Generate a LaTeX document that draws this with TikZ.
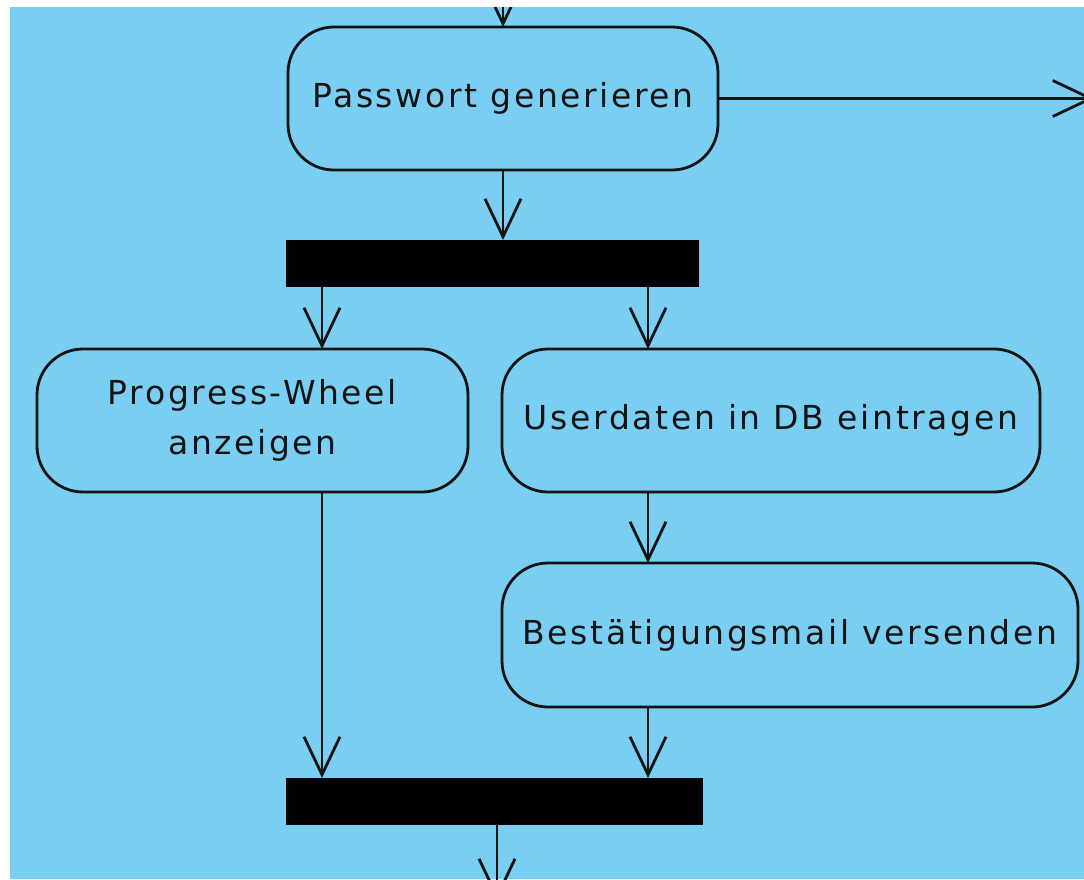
\documentclass[tikz,border=0pt]{standalone}
\usepackage{fontspec}
\setmainfont[LetterSpace=8]{DejaVu Sans}
\usetikzlibrary{arrows.meta,calc}
\definecolor{bgblue}{RGB}{122,206,242}
\definecolor{ink}{RGB}{20,20,20}
\tikzset{
  action/.style={draw=ink, line width=2.8pt, rounded corners=46pt, inner sep=0pt, outer sep=0pt,
    minimum height=143pt, align=center, text=ink, font=\fontsize{33}{50}\selectfont},
  bar/.style={fill=black, draw=black, line width=1pt, inner sep=0pt, outer sep=0pt, minimum height=46pt},
  flow/.style={draw=ink, line width=2.8pt, -{Straight Barb[length=38pt,width=36pt,line width=2.8pt]}}
}
\begin{document}
\begin{tikzpicture}[x=1pt,y=-1pt]
\useasboundingbox (0,0) rectangle (1084,879);
\fill[white] (0,0) rectangle (1084,879);
\fill[bgblue] (10,7) rectangle (1084,879);
\begin{scope}
\clip (10,7) rectangle (1084,879);
\node[action, minimum width=430pt] (pw) at (503,98.5) {Passwort generieren};
\node[bar, minimum width=412pt] (bar1) at (492,263) {};
\node[action, minimum width=431pt] (wheel) at (252.5,420.5) {Progress-Wheel\\anzeigen};
\node[action, minimum width=538pt] (db) at (771,420.5) {Userdaten in DB eintragen};
\node[action, minimum width=576pt, minimum height=144pt] (mail) at (790,635) {Bestätigungsmail versenden};
\node[bar, minimum width=416pt] (bar2) at (494,801) {};
\coordinate (in) at (503,-20);
\coordinate (out) at (1094,98.5);
\coordinate (end) at (497,900);
\coordinate (cl) at (322,0);
\coordinate (cr) at (648,0);
\draw[flow] (in) -- (pw.north);
\draw[flow] (pw.east) -- (out);
\draw[flow] (pw.south) -- (pw.south |- bar1.north);
\draw[flow] (bar1.south -| cl) -- (wheel.north -| cl);
\draw[flow] (bar1.south -| cr) -- (db.north -| cr);
\draw[flow] (db.south -| cr) -- (mail.north -| cr);
\draw[flow] (wheel.south -| cl) -- (bar2.north -| cl);
\draw[flow] (mail.south -| cr) -- (bar2.north -| cr);
\draw[flow] (bar2.south -| end) -- (end);
\end{scope}
\end{tikzpicture}
\end{document}
